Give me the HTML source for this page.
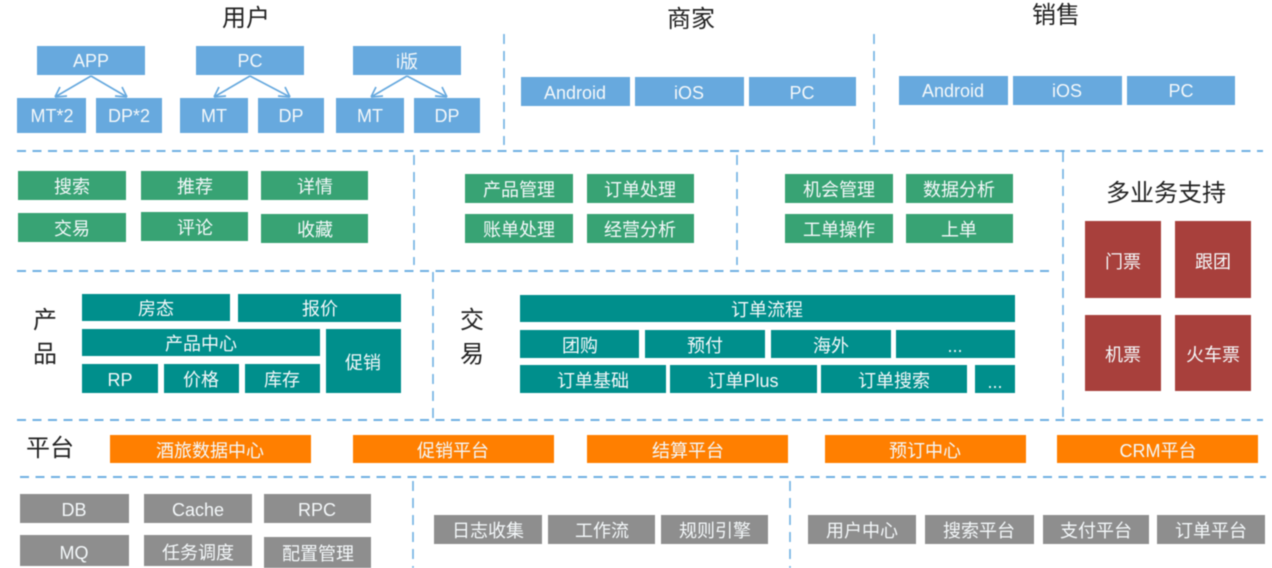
<!DOCTYPE html>
<html><head><meta charset="utf-8">
<style>
html,body{margin:0;padding:0;background:#fff;width:1272px;height:568px;overflow:hidden}
svg{display:block;filter:blur(.5px)}
text{font-family:"Liberation Sans","Noto Sans CJK SC",sans-serif;text-anchor:middle}
.b text,.g text,.t text,.r text,.o text,.y text{fill:#f4f8fa;font-size:18px}
.b rect{fill:#67a9de}.g rect{fill:#38a374}.t rect{fill:#008f8c}.r rect{fill:#a8403c}.o rect{fill:#ff7f00}.y rect{fill:#8e8e8e}
.h text{fill:#222;font-size:24px}
.d line{stroke:#6fb0e2;stroke-width:2;stroke-dasharray:9 6.5}
.v line{stroke:#6fb0e2;stroke-width:1.6;stroke-dasharray:10 7}
.a path{stroke:#67a9de;stroke-width:1.7;fill:none}
</style></head><body>
<svg width="1272" height="568" viewBox="0 0 1272 568" xmlns="http://www.w3.org/2000/svg">
<g class="d">
<line x1="17" y1="151" x2="1263" y2="151"/>
<line x1="17" y1="271" x2="1052" y2="271"/>
<line x1="17" y1="420" x2="1263" y2="420"/>
<line x1="20" y1="477" x2="1266" y2="477"/>
</g>
<g class="v">
<line x1="504" y1="34" x2="504" y2="145"/>
<line x1="874" y1="34" x2="874" y2="145"/>
<line x1="414" y1="155" x2="414" y2="265"/>
<line x1="737" y1="155" x2="737" y2="265"/>
<line x1="1063" y1="152" x2="1063" y2="420"/>
<line x1="433" y1="272" x2="433" y2="420"/>
<line x1="413" y1="481" x2="413" y2="568"/>
<line x1="790" y1="481" x2="790" y2="568"/>
</g>
<g class="h">
<text x="246" y="26">用户</text>
<text x="691" y="27">商家</text>
<text x="1056" y="23">销售</text>
<text x="1166" y="201">多业务支持</text>
<text x="45" y="328">产</text>
<text x="45" y="362">品</text>
<text x="472" y="328">交</text>
<text x="472" y="362">易</text>
<text x="50" y="456">平台</text>
</g>
<g class="a">
<path d="M91 76 L55 97 M55 97 L60 87 M55 97 L67 96 M91 76 L127 97 M127 97 L115 96 M127 97 L122 87"/>
<path d="M250 76 L214 97 M214 97 L219 87 M214 97 L226 96 M250 76 L290 97 M290 97 L278 96 M290 97 L285 87"/>
<path d="M407 76 L371 97 M371 97 L376 87 M371 97 L383 96 M407 76 L447 97 M447 97 L435 96 M447 97 L442 87"/>
</g>
<g class="b">
<rect x="37" y="46" width="108" height="29"/><text x="91" y="67">APP</text>
<rect x="196" y="46" width="108" height="29"/><text x="250" y="67">PC</text>
<rect x="353" y="46" width="108" height="29"/><text x="407" y="68">i版</text>
<rect x="17" y="98" width="69" height="35"/><text x="52" y="122">MT*2</text>
<rect x="96" y="98" width="66" height="35"/><text x="129" y="122">DP*2</text>
<rect x="180" y="98" width="68" height="35"/><text x="214" y="122">MT</text>
<rect x="258" y="98" width="66" height="35"/><text x="291" y="122">DP</text>
<rect x="336" y="98" width="68" height="35"/><text x="370" y="122">MT</text>
<rect x="414" y="98" width="66" height="35"/><text x="447" y="122">DP</text>
<rect x="521" y="77" width="109" height="29"/><text x="575" y="99">Android</text>
<rect x="635" y="77" width="109" height="29"/><text x="689" y="99">iOS</text>
<rect x="749" y="77" width="107" height="29"/><text x="802" y="99">PC</text>
<rect x="899" y="76" width="109" height="29"/><text x="953" y="97">Android</text>
<rect x="1013" y="76" width="109" height="29"/><text x="1067" y="97">iOS</text>
<rect x="1127" y="76" width="108" height="29"/><text x="1181" y="97">PC</text>
</g>
<g class="g">
<rect x="18" y="171" width="108" height="29"/><text x="72" y="193">搜索</text>
<rect x="141" y="171" width="107" height="29"/><text x="195" y="193">推荐</text>
<rect x="261" y="171" width="107" height="29"/><text x="315" y="193">详情</text>
<rect x="18" y="213" width="108" height="29"/><text x="72" y="235">交易</text>
<rect x="141" y="212" width="107" height="29"/><text x="195" y="234">评论</text>
<rect x="261" y="214" width="107" height="29"/><text x="315" y="236">收藏</text>
<rect x="465" y="174" width="108" height="29"/><text x="519" y="196">产品管理</text>
<rect x="587" y="174" width="107" height="29"/><text x="640" y="196">订单处理</text>
<rect x="465" y="214" width="108" height="29"/><text x="519" y="236">账单处理</text>
<rect x="587" y="214" width="107" height="29"/><text x="640" y="236">经营分析</text>
<rect x="785" y="174" width="108" height="29"/><text x="839" y="196">机会管理</text>
<rect x="906" y="174" width="107" height="29"/><text x="959" y="196">数据分析</text>
<rect x="785" y="214" width="108" height="29"/><text x="839" y="236">工单操作</text>
<rect x="906" y="214" width="107" height="29"/><text x="959" y="236">上单</text>
</g>
<g class="t">
<rect x="82" y="294" width="148" height="27"/><text x="156" y="315">房态</text>
<rect x="238" y="294" width="163" height="28"/><text x="320" y="315">报价</text>
<rect x="82" y="329" width="238" height="27"/><text x="201" y="350">产品中心</text>
<rect x="326" y="329" width="75" height="64"/><text x="363" y="369">促销</text>
<rect x="82" y="364" width="76" height="29"/><text x="120" y="386">RP</text>
<rect x="164" y="364" width="75" height="29"/><text x="201" y="386">价格</text>
<rect x="245" y="364" width="75" height="29"/><text x="282" y="386">库存</text>
<rect x="520" y="295" width="495" height="27"/><text x="767" y="316">订单流程</text>
<rect x="520" y="330" width="119" height="28"/><text x="580" y="352">团购</text>
<rect x="645" y="330" width="120" height="28"/><text x="705" y="352">预付</text>
<rect x="771" y="330" width="120" height="28"/><text x="831" y="352">海外</text>
<rect x="896" y="330" width="119" height="28"/><text x="955" y="352">...</text>
<rect x="520" y="365" width="146" height="28"/><text x="593" y="387">订单基础</text>
<rect x="670" y="365" width="147" height="28"/><text x="743" y="387">订单Plus</text>
<rect x="821" y="365" width="146" height="28"/><text x="894" y="387">订单搜索</text>
<rect x="975" y="365" width="40" height="28"/><text x="995" y="388">...</text>
</g>
<g class="r">
<rect x="1085" y="221" width="76" height="77"/><text x="1123" y="268">门票</text>
<rect x="1175" y="221" width="76" height="77"/><text x="1213" y="268">跟团</text>
<rect x="1085" y="315" width="76" height="76"/><text x="1123" y="361">机票</text>
<rect x="1175" y="315" width="76" height="76"/><text x="1213" y="361">火车票</text>
</g>
<g class="o">
<rect x="110" y="435" width="201" height="28"/><text x="210" y="457">酒旅数据中心</text>
<rect x="353" y="435" width="201" height="28"/><text x="453" y="457">促销平台</text>
<rect x="587" y="435" width="201" height="28"/><text x="688" y="457">结算平台</text>
<rect x="825" y="435" width="201" height="28"/><text x="925" y="457">预订中心</text>
<rect x="1057" y="435" width="201" height="28"/><text x="1158" y="457">CRM平台</text>
</g>
<g class="y">
<rect x="20" y="494" width="109" height="29"/><text x="74" y="516">DB</text>
<rect x="144" y="494" width="108" height="29"/><text x="198" y="516">Cache</text>
<rect x="264" y="494" width="107" height="29"/><text x="317" y="516">RPC</text>
<rect x="20" y="535" width="109" height="31"/><text x="74" y="559">MQ</text>
<rect x="144" y="535" width="108" height="31"/><text x="198" y="559">任务调度</text>
<rect x="264" y="537" width="107" height="31"/><text x="318" y="560">配置管理</text>
<rect x="434" y="515" width="108" height="29"/><text x="488" y="537">日志收集</text>
<rect x="548" y="515" width="107" height="29"/><text x="602" y="537">工作流</text>
<rect x="661" y="515" width="107" height="29"/><text x="715" y="537">规则引擎</text>
<rect x="808" y="515" width="108" height="29"/><text x="862" y="537">用户中心</text>
<rect x="925" y="515" width="109" height="29"/><text x="979" y="537">搜索平台</text>
<rect x="1043" y="515" width="106" height="29"/><text x="1096" y="537">支付平台</text>
<rect x="1157" y="515" width="108" height="29"/><text x="1211" y="537">订单平台</text>
</g>
</svg>
</body></html>
